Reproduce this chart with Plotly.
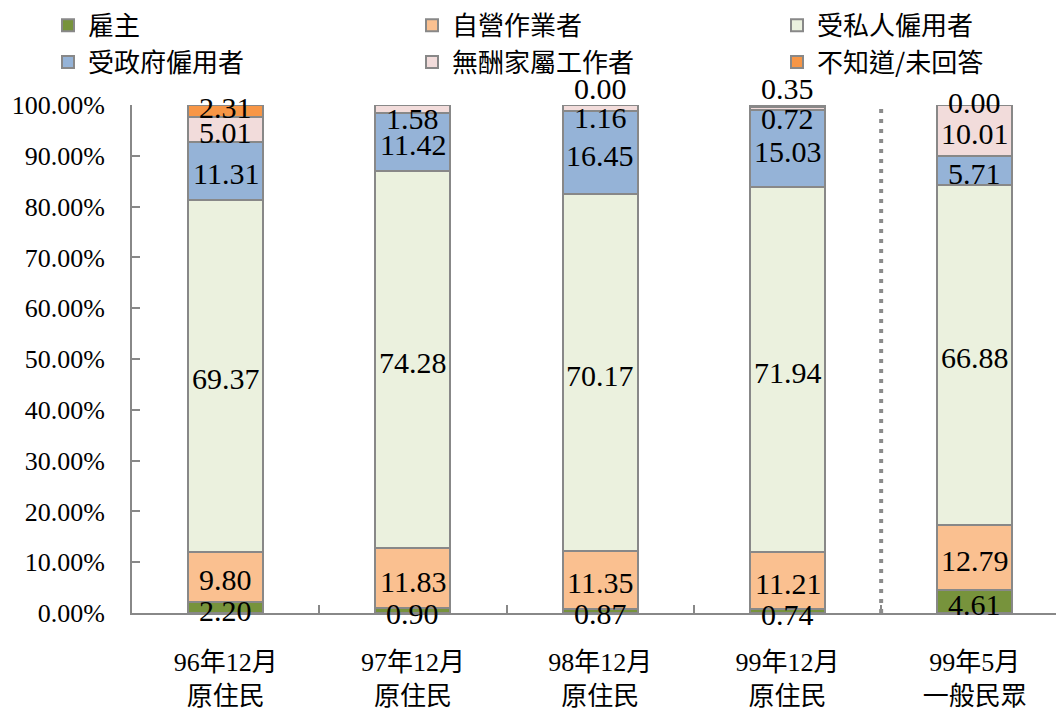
import plotly.graph_objects as go

categories = ["96年12月<br>原住民", "97年12月<br>原住民", "98年12月<br>原住民", "99年12月<br>原住民", "99年5月<br>一般民眾"]

series_names = ["雇主", "自營作業者", "受私人僱用者", "受政府僱用者", "無酬家屬工作者", "不知道/未回答"]
employer = [2.20, 0.90, 0.87, 0.74, 4.61]
self_employed = [9.80, 11.83, 11.35, 11.21, 12.79]
private_employee = [69.37, 74.28, 70.17, 71.94, 66.88]
gov_employee = [11.31, 11.42, 16.45, 15.03, 5.71]
unpaid_family = [5.01, 1.58, 1.16, 0.72, 10.01]
unknown = [2.31, 0.00, 0.00, 0.35, 0.00]

y_ticks = [0, 10, 20, 30, 40, 50, 60, 70, 80, 90, 100]

series_values = [employer, self_employed, private_employee, gov_employee, unpaid_family, unknown]
colors = ["#77933C", "#FAC090", "#EBF1DE", "#95B3D7", "#F2DCDB", "#F79646"]
# legend laid out in 3 columns x 2 rows (column of each series)
legend_ids = ["legend", "legend2", "legend3", "legend", "legend2", "legend3"]

SERIF = "Liberation Serif, Times New Roman, Noto Sans CJK TC, serif"
LEG_FONT = "Noto Sans CJK TC, Liberation Serif, serif"

fig = go.Figure()
for name, vals, col, lg in zip(series_names, series_values, colors, legend_ids):
    fig.add_trace(go.Bar(
        x=categories, y=vals, name=name, legend=lg,
        marker=dict(color=col, line=dict(color="#888888", width=2)),
        width=0.4, hoverinfo="skip",
    ))

# data labels centred in each segment, nudged when the top segments are tiny
n = len(series_values)
for ci, cat in enumerate(categories):
    base = 0.0
    for si, vals in enumerate(series_values):
        v = vals[ci]
        center = base + v / 2.0
        base += v
        shift = -3
        if si == n - 1:
            shift = 17 if (v < 1 and series_values[n - 2][ci] < 3) else 3
        elif si == n - 2 and v < 2:
            shift = -10
        fig.add_annotation(
            x=cat, y=center, text=f"{v:.2f}", showarrow=False,
            yshift=shift, font=dict(family=SERIF, size=30, color="black"),
            xanchor="center", yanchor="middle",
        )

# dotted separator between the indigenous series and the general public
fig.add_shape(type="line", xref="x", yref="y", x0=3.5, x1=3.5, y0=0, y1=104,
              line=dict(color="#8C8C8C", width=4, dash="4px,6px"))

leg_common = dict(
    orientation="v", xref="container", yref="paper", xanchor="left", yanchor="top",
    y=1.203, font=dict(family=LEG_FONT, size=26, color="black"),
    bgcolor="rgba(0,0,0,0)", itemclick=False, traceorder="normal",
)

fig.update_layout(
    width=1064, height=712,
    barmode="stack",
    plot_bgcolor="white", paper_bgcolor="white",
    margin=dict(l=124, r=0, t=97, b=107, autoexpand=False),
    font=dict(family=SERIF, size=26, color="black"),
    legend=dict(x=40 / 1064, **leg_common),
    legend2=dict(x=404 / 1064, **leg_common),
    legend3=dict(x=769 / 1064, **leg_common),
    xaxis=dict(
        type="category", range=[-0.5, 4.519], showline=True, linecolor="#888888", linewidth=2,
        ticks="inside", ticklen=8, tickcolor="#888888", tickwidth=2, tickson="boundaries",
        tickfont=dict(family=SERIF, size=26, color="black"), showgrid=False,
        automargin=False, ticklabelstandoff=25,
    ),
    yaxis=dict(
        range=[0, 100], tickvals=y_ticks, ticktext=[f"{t:.2f}%" for t in y_ticks],
        showline=True, linecolor="#888888", linewidth=2,
        ticks="inside", ticklen=8, tickcolor="#888888", tickwidth=2,
        showgrid=False, zeroline=False, automargin=False, ticklabelstandoff=20,
        tickfont=dict(family=SERIF, size=26, color="black"),
    ),
    showlegend=True,
)

fig.write_html("out.html")
